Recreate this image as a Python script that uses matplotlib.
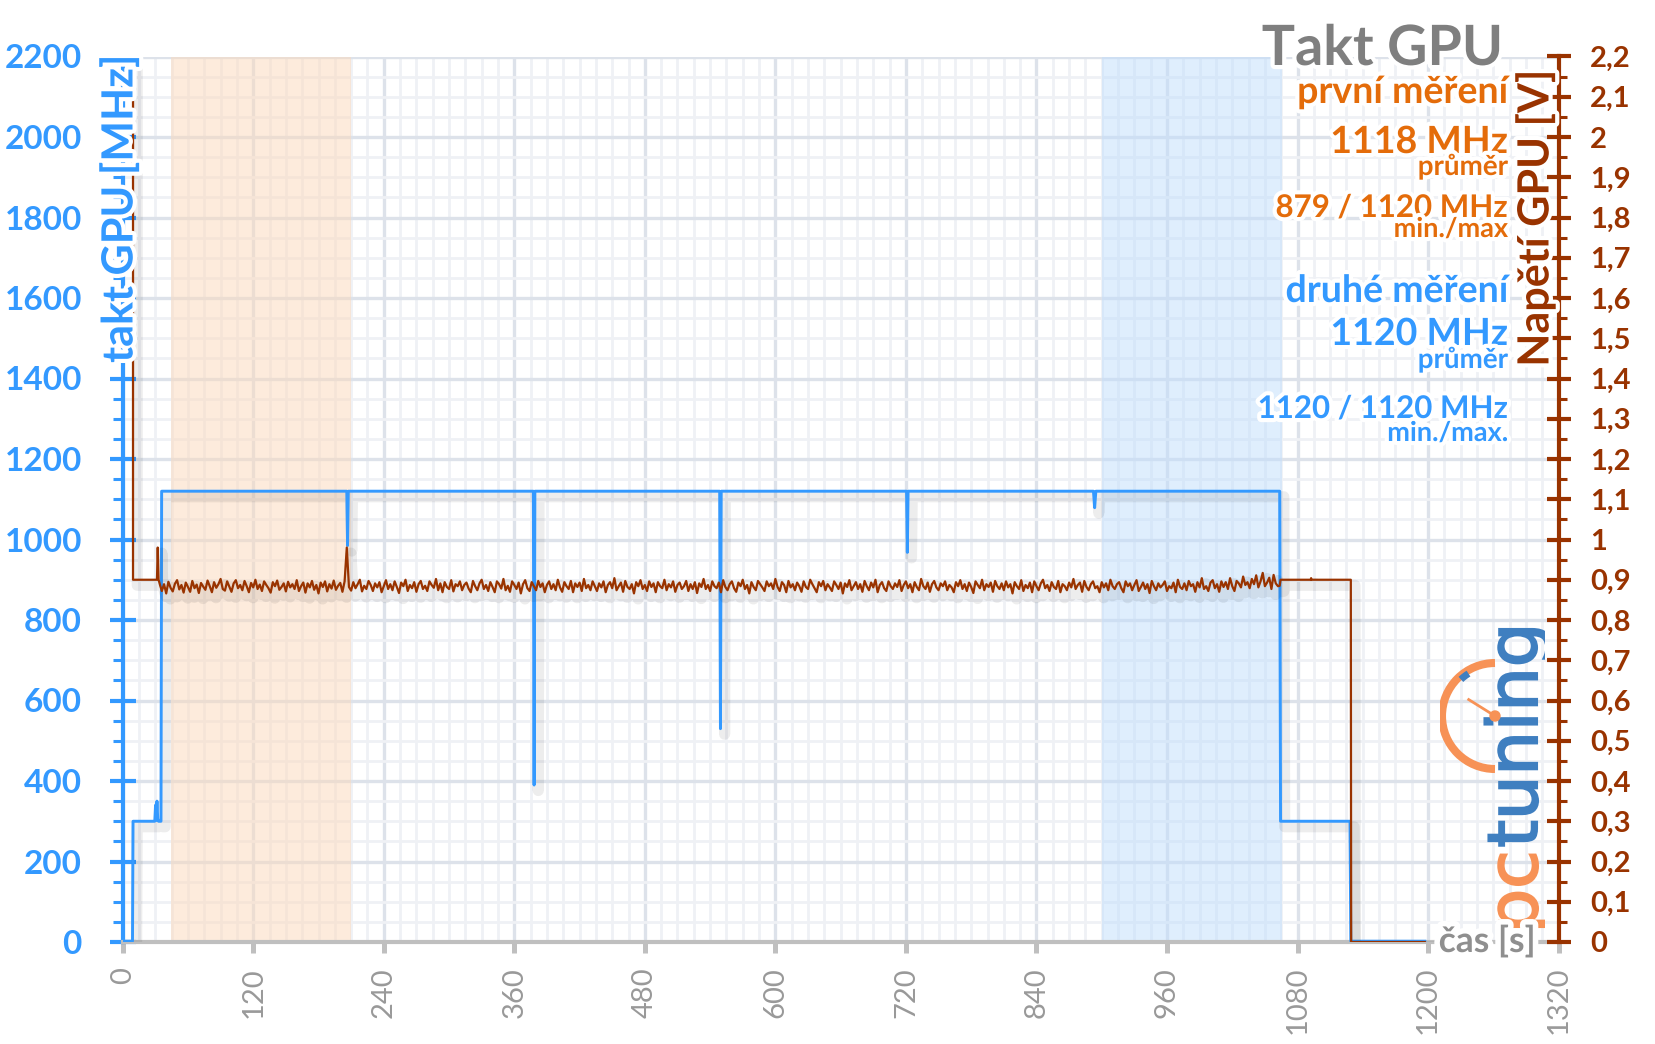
import matplotlib
matplotlib.use("Agg")
import numpy as np
import matplotlib.pyplot as plt
import matplotlib.patheffects as pe
from matplotlib.ticker import MultipleLocator
from matplotlib.patches import Arc, Circle, PathPatch
from matplotlib.textpath import TextPath
from matplotlib.font_manager import FontProperties
from matplotlib.transforms import Affine2D

plt.rcParams['font.family'] = ['Lato', 'DejaVu Sans']

# ---------------- data ----------------
clock_time = [0, 9.0, 9.5, 29.5, 30.2, 30.8, 31.5, 32.2, 33.0, 35.2, 35.8,
              206.0, 206.7, 207.4, 377.5, 378.2, 378.9, 548.8, 549.5, 550.2,
              720.6, 721.3, 722.0, 892.4, 893.5, 894.6, 1063.6, 1064.4,
              1128.2, 1129.0, 1197.0]
clock_mhz = [2, 2, 300, 300, 340, 302, 350, 306, 300, 300, 1120,
             1120, 985, 1120, 1120, 390, 1120, 1120, 530, 1120,
             1120, 968, 1120, 1120, 1079, 1120, 1120, 300,
             300, 2, 2]

volt_head_time = [0, 9.5, 9.5, 31.5, 32.2, 33.0, 34.5]
volt_head_v = [2.35, 2.35, 0.90, 0.90, 0.98, 0.90, 0.885]

volt_noise_start = 36   # s
volt_noise_step = 2     # s
volt_noise_mv = [
    872, 889, 866, 895, 880, 871, 890, 899, 876, 887, 868, 893, 882, 870, 897, 879, 888, 867, 892, 883,
    875, 898, 884, 869, 894, 880, 889, 902, 877, 873, 896, 883, 870, 891, 899, 879, 887, 874, 897, 884,
    869, 892, 881, 900, 877, 888, 872, 896, 887, 879, 868, 894, 884, 898, 875, 882, 891, 871, 895, 881,
    889, 877, 899, 872, 884, 893, 868, 891, 881, 897, 875, 887, 866, 893, 882, 896, 871, 889, 878, 898,
    875, 885, 892, 870, 896, 980, 882, 873, 894, 879, 889, 900, 871, 885, 877, 897, 887, 872, 891, 881,
    894, 869, 884, 899, 877, 889, 874, 896, 882, 867, 893, 884, 900, 872, 887, 879, 894, 870, 889, 897,
    877, 885, 872, 896, 887, 880, 902, 874, 891, 869, 894, 882, 877, 899, 871, 889, 884, 896, 874, 887,
    893, 878, 869, 897, 884, 874, 891, 900, 877, 887, 872, 894, 882, 869, 896, 889, 878, 902, 874, 885,
    870, 896, 887, 877, 893, 866, 889, 899, 879, 872, 894, 884, 874, 897, 882, 891, 869, 887, 896, 877,
    889, 874, 900, 881, 870, 894, 884, 877, 897, 869, 891, 882, 893, 872, 902, 879, 887, 874, 896, 884,
    872, 891, 881, 896, 869, 887, 894, 879, 904, 874, 884, 893, 870, 897, 882, 877, 889, 866, 894, 884,
    899, 877, 887, 872, 896, 882, 891, 869, 894, 884, 879, 900, 874, 889, 881, 896, 870, 887, 893, 877,
    884, 897, 872, 889, 877, 894, 867, 891, 882, 902, 877, 887, 872, 896, 884, 879, 893, 869, 899, 882,
    874, 889, 896, 879, 870, 893, 884, 900, 877, 887, 866, 894, 882, 874, 897, 889, 881, 872, 896, 884,
    891, 877, 902, 882, 872, 894, 887, 869, 897, 881, 889, 874, 893, 884, 870, 896, 882, 877, 900, 889,
    879, 869, 894, 884, 897, 874, 889, 881, 872, 896, 887, 877, 893, 866, 891, 882, 899, 874, 884, 894,
    877, 889, 870, 897, 884, 874, 893, 881, 900, 869, 887, 894, 879, 872, 896, 884, 877, 891, 882, 899,
    872, 887, 896, 879, 889, 869, 894, 882, 874, 902, 884, 877, 893, 870, 889, 897, 881, 874, 891, 884,
    896, 874, 887, 881, 869, 894, 884, 899, 877, 889, 872, 893, 882, 867, 896, 887, 879, 900, 874, 889,
    882, 893, 870, 897, 884, 877, 891, 874, 896, 881, 889, 866, 894, 884, 877, 899, 872, 887, 879, 893,
    869, 896, 884, 874, 891, 900, 879, 887, 872, 894, 882, 877, 897, 869, 889, 884, 874, 893, 881, 902,
    877, 887, 893, 870, 897, 882, 874, 889, 896, 879, 884, 869, 894, 881, 891, 874, 900, 884, 877, 889,
    894, 879, 869, 896, 884, 891, 874, 887, 899, 872, 882, 893, 877, 889, 867, 897, 884, 874, 891, 881,
    887, 896, 872, 884, 879, 893, 869, 900, 882, 877, 891, 874, 897, 884, 889, 870, 894, 881, 904, 877,
    884, 872, 893, 899, 879, 889, 870, 896, 882, 894, 877, 904, 884, 872, 897, 891, 881, 908, 887, 894,
    879, 902, 889, 911, 881, 896, 917, 884, 893, 905, 877, 912, 891, 884,
]

volt_tail_time = [1063.6, 1064.4, 1092.0, 1092.5, 1093.0, 1129.0, 1129.3, 1197.0]
volt_tail_v = [0.885, 0.90, 0.90, 0.904, 0.90, 0.90, 0.0, 0.0]

first_window = (44, 210)
second_window = (900, 1066)

x_ticks = [0, 120, 240, 360, 480, 600, 720, 840, 960, 1080, 1200, 1320]
mhz_ticks = [0, 200, 400, 600, 800, 1000, 1200, 1400, 1600, 1800, 2000, 2200]
volt_ticks = [0.0, 0.1, 0.2, 0.3, 0.4, 0.5, 0.6, 0.7, 0.8, 0.9, 1.0, 1.1,
              1.2, 1.3, 1.4, 1.5, 1.6, 1.7, 1.8, 1.9, 2.0, 2.1, 2.2]

title = "Takt GPU"
first_lines = ["první měření", "1118 MHz", "průměr", "879 / 1120 MHz", "min./max"]
second_lines = ["druhé měření", "1120 MHz", "průměr", "1120 / 1120 MHz", "min./max."]

# ---------------- build series ----------------
noise_time = volt_noise_start + volt_noise_step * np.arange(len(volt_noise_mv))
volt_time = np.concatenate([volt_head_time, noise_time, volt_tail_time])
volt_v = np.concatenate([volt_head_v, np.array(volt_noise_mv) / 1000.0, volt_tail_v])

# ---------------- style ----------------
BLUE = '#3399FF'
BROWN = '#993300'
ORANGE = '#E46C0A'
GRAY = '#7F7F7F'
W_PX, H_PX = 1656, 1044

fig = plt.figure(figsize=(W_PX / 100, H_PX / 100), dpi=100)
L, R, T, B = 122.7, 1558.6, 56.5, 942.0
ax = fig.add_axes([L / W_PX, 1 - B / H_PX, (R - L) / W_PX, (B - T) / H_PX])

ax.set_xlim(0, 1320)
ax.set_ylim(0, 2200)
ax.set_axisbelow(True)
ax.xaxis.set_minor_locator(MultipleLocator(15))
ax.yaxis.set_minor_locator(MultipleLocator(50))
ax.grid(which='minor', color='#eff1f5', linewidth=2.0)
ax.grid(which='major', color='#dde2ea', linewidth=2.4)

ax.axvspan(*first_window, facecolor='#fcd9bb', alpha=0.5, lw=0, zorder=1)
ax.axvspan(*second_window, facecolor='#c0defc', alpha=0.5, lw=0, zorder=1)

ax.set_xticks(x_ticks, labels=[str(v) for v in x_ticks], rotation=90,
              color='#999999', fontsize=21)
ax.set_yticks(mhz_ticks, labels=[str(v) for v in mhz_ticks],
              fontweight='bold', fontsize=24, color=BLUE)
ax.tick_params(axis='x', which='major', direction='out', length=8, width=3.6,
               color='#bfbfbf', pad=10)
ax.tick_params(axis='x', which='minor', length=0)
ax.tick_params(axis='y', which='major', direction='inout', length=18.7, width=3,
               color=BLUE, pad=20)
ax.tick_params(axis='y', which='minor', direction='out', length=7.2, width=2.2,
               color=BLUE)
for s in ('top', 'right'):
    ax.spines[s].set_visible(False)
ax.spines['left'].set_color(BLUE)
ax.spines['left'].set_linewidth(3)
ax.spines['bottom'].set_color('#bfbfbf')
ax.spines['bottom'].set_linewidth(3)

shadow = [pe.SimpleLineShadow(offset=(3, -4), shadow_color='#000000', alpha=0.07, linewidth=8),
          pe.Normal()]
ax.plot(clock_time, clock_mhz, color=BLUE, lw=2.1, zorder=3, path_effects=shadow)

ax2 = ax.twinx()
ax2.set_ylim(0, 2.2)


def cz(v):
    s = f"{v:.1f}"
    if s.endswith('.0'):
        s = s[:-2]
    return s.replace('.', ',')


ax2.set_yticks(volt_ticks, labels=[cz(v) for v in volt_ticks],
               fontweight='bold', fontsize=21, color=BROWN)
ax2.yaxis.set_minor_locator(MultipleLocator(0.05))
ax2.tick_params(axis='y', which='major', direction='inout', length=17.3, width=3,
                color=BROWN, pad=14)
ax2.tick_params(axis='y', which='minor', direction='out', length=6, width=2.2,
                color=BROWN)
for s in ('top', 'left', 'bottom'):
    ax2.spines[s].set_visible(False)
ax2.spines['right'].set_color(BROWN)
ax2.spines['right'].set_linewidth(3)
ax2.plot(volt_time, volt_v, color=BROWN, lw=1.6, zorder=3, path_effects=shadow)

# ---------------- texts ----------------
halo = [pe.withStroke(linewidth=6, foreground='white')]


def ftext(xpx, ypx, s, size, color, **kw):
    fig.text(xpx / W_PX, 1 - ypx / H_PX, s, fontsize=size, color=color,
             fontweight='bold', path_effects=halo, **kw)


XR = 1508
ftext(1503, 65, title, 40, GRAY, ha='right', va='baseline')
sizes = [27, 27, 20, 22.5, 19.5]
ys1 = [103, 153, 175, 217, 237]
ys2 = [302, 345, 368, 418, 441]
for s, sz, y in zip(first_lines, sizes, ys1):
    ftext(XR, y, s, sz, ORANGE, ha='right', va='baseline')
for s, sz, y in zip(second_lines, sizes, ys2):
    ftext(XR, y, s, sz, BLUE, ha='right', va='baseline')

ftext(119, 55, "takt GPU [MHz]", 31, BLUE, ha='center', va='top', rotation=90)
ftext(1535, 70, "Napětí GPU [V]", 31, BROWN, ha='center', va='top', rotation=90)
fig.text(1487 / W_PX, 1 - 952 / H_PX, "čas [s]", fontsize=25.5, color='#8f8f8f',
         fontweight='bold', ha='center', va='baseline',
         path_effects=[pe.withStroke(linewidth=8, foreground='white')])

# ---------------- logo ----------------
lx0, ly_top, lw_, lh_ = 1440, 625, 105, 305
lax = fig.add_axes([lx0 / W_PX, 1 - (ly_top + lh_) / H_PX, lw_ / W_PX, lh_ / H_PX])
lax.set_xlim(0, lw_)
lax.set_ylim(0, lh_)
lax.axis('off')
LOGO_OR = '#F79256'
LOGO_BL = '#3F7FC0'
fp = FontProperties(family='DejaVu Sans', weight='normal')
tp1 = TextPath((0, 0), 'pc', size=100, prop=fp)
e1 = tp1.get_extents()
tp2 = TextPath((e1.x1 + 10, 0), 'tuning', size=100, prop=fp)
e2 = tp2.get_extents()
sx = 298.0 / (e2.x1 - e1.x0)
sy = 38.0 / 55.0
tr = Affine2D().translate(-e1.x0, 0).scale(sx, sy).rotate_deg(90).translate(97, 3)
lax.add_patch(PathPatch(tr.transform_path(tp1), facecolor=LOGO_OR, edgecolor=LOGO_OR, lw=1.5))
lax.add_patch(PathPatch(tr.transform_path(tp2), facecolor=LOGO_BL, edgecolor=LOGO_BL, lw=1.5))
cx, cy, rr = 55, 214, 53
lax.add_patch(Arc((cx, cy), 2 * rr, 2 * rr, theta1=90, theta2=270, lw=5.8, color=LOGO_OR))
lax.add_patch(Arc((cx, cy), 2 * (rr - 3), 2 * (rr - 3), theta1=122, theta2=133, lw=5, color=LOGO_BL))
ang = np.deg2rad(148)
lax.plot([cx, cx + 31 * np.cos(ang)], [cy, cy + 31 * np.sin(ang)], color=LOGO_OR, lw=2)
lax.add_patch(Circle((cx, cy), 5, color=LOGO_OR))

fig.savefig('out.png', dpi=100)
